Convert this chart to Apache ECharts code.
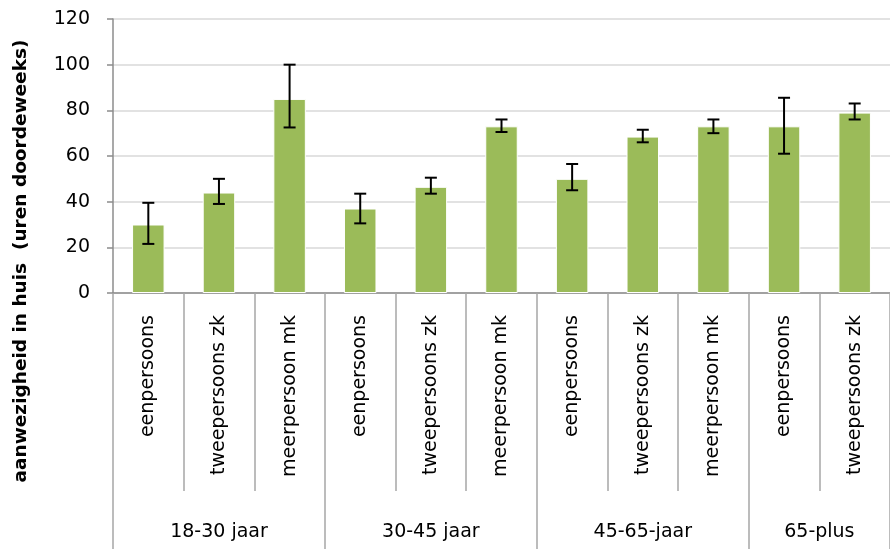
<!DOCTYPE html>
<html>
<head>
<meta charset="utf-8">
<script src="https://cdn.jsdelivr.net/npm/echarts@6/dist/echarts.min.js"></script>
<style>
  html, body { margin: 0; padding: 0; background: #fff; }
  #chart { width: 890px; height: 549px; }
</style>
</head>
<body>
<div id="chart"></div>
<script>
// Household types, per age group
const categories = [
  'eenpersoons', 'tweepersoons zk', 'meerpersoon mk',
  'eenpersoons', 'tweepersoons zk', 'meerpersoon mk',
  'eenpersoons', 'tweepersoons zk', 'meerpersoon mk',
  'eenpersoons', 'tweepersoons zk'
];
const groupNames = ['18-30 jaar', '30-45 jaar', '45-65-jaar', '65-plus'];
const groupSizes = [3, 3, 3, 2];

// Hours at home on weekdays, with lower/upper bounds of the error bars
const hours     = [30, 44, 85, 37, 46.5, 73, 50, 68.5, 73, 73, 79];
const errLower  = [21.5, 39, 72.5, 30.5, 43.5, 70.5, 45, 66, 70, 61, 76];
const errUpper  = [39.5, 50, 100, 43.5, 50.5, 76, 56.5, 71.5, 76, 85.5, 83];

const yTicks = { min: 0, max: 120, interval: 20 };

// Index of the first category of each group
const groupStarts = [];
groupSizes.reduce((acc, n) => { groupStarts.push(acc); return acc + n; }, 0);
const groupData = groupNames.map((name, g) => [groupStarts[g], groupStarts[g] + groupSizes[g] - 1, 0]);

const FONT = 'DejaVu Sans';
const chart = echarts.init(document.getElementById('chart'));

chart.setOption({
  animation: false,
  backgroundColor: '#ffffff',
  textStyle: { fontFamily: FONT },
  grid: { left: 113, right: -12, top: 19, bottom: 256, containLabel: false },
  graphic: [{
    type: 'text',
    x: 21, y: 261,
    rotation: Math.PI / 2,
    style: {
      text: 'aanwezigheid in huis  (uren doordeweeks)',
      fontFamily: FONT,
      fontWeight: 'bold',
      fontSize: 18.5,
      fill: '#000',
      align: 'center',
      verticalAlign: 'middle'
    }
  }],
  xAxis: [{
    type: 'category',
    data: categories,
    axisLine: { show: true, lineStyle: { color: '#8c8c8c', width: 1.5 } },
    axisTick: { show: true, length: 198, interval: 0, lineStyle: { color: '#a6a6a6', width: 1.5 } },
    axisLabel: {
      show: true, rotate: 90, margin: 22, fontSize: 19, color: '#000', fontFamily: FONT, interval: 0
    },
    splitLine: { show: false }
  }, {
    type: 'category',
    data: categories,
    position: 'bottom',
    axisLine: { show: false },
    axisTick: {
      show: true,
      length: 260,
      interval: (index) => groupStarts.includes(index),
      lineStyle: { color: '#a6a6a6', width: 1.5 }
    },
    axisLabel: { show: false },
    splitLine: { show: false }
  }],
  yAxis: {
    type: 'value',
    min: yTicks.min, max: yTicks.max, interval: yTicks.interval,
    axisLine: { show: true, lineStyle: { color: '#8c8c8c', width: 1.5 } },
    axisTick: { show: true, length: 6, lineStyle: { color: '#8c8c8c', width: 1.5 } },
    axisLabel: { fontSize: 19, color: '#000', margin: 23, fontFamily: FONT },
    splitLine: { lineStyle: { color: '#d9d9d9', width: 1.5 } }
  },
  series: [{
    type: 'bar',
    data: hours,
    barWidth: '46%',
    itemStyle: { color: '#9bbb59', borderColor: '#ffffff', borderWidth: 1 },
    z: 2
  }, {
    type: 'custom',
    name: 'error',
    data: hours.map((v, i) => [i, errLower[i], errUpper[i]]),
    encode: { x: 0, y: [1, 2] },
    z: 3,
    renderItem: function (params, api) {
      const i = api.value(0);
      const lo = api.coord([i, api.value(1)]);
      const hi = api.coord([i, api.value(2)]);
      const cap = 6;
      const style = { stroke: '#000', lineWidth: 2 };
      return {
        type: 'group',
        children: [
          { type: 'line', shape: { x1: lo[0], y1: lo[1], x2: hi[0], y2: hi[1] }, style },
          { type: 'line', shape: { x1: hi[0] - cap, y1: hi[1], x2: hi[0] + cap, y2: hi[1] }, style },
          { type: 'line', shape: { x1: lo[0] - cap, y1: lo[1], x2: lo[0] + cap, y2: lo[1] }, style }
        ]
      };
    }
  }, {
    type: 'custom',
    name: 'groups',
    data: groupData,
    encode: { x: 0, y: 2 },
    clip: false,
    silent: true,
    renderItem: function (params, api) {
      const band = api.size([1, 0])[0];
      const a = api.coord([api.value(0), 0]);
      const b = api.coord([api.value(1), 0]);
      const cx = (a[0] + b[0]) / 2;
      const axisY = params.coordSys.y + params.coordSys.height;
      return {
        type: 'text',
        x: cx, y: axisY + 239,
        style: {
          text: groupNames[params.dataIndex],
          fontFamily: FONT, fontSize: 19, fill: '#000',
          align: 'center', verticalAlign: 'middle'
        }
      };
    }
  }]
});
</script>
</body>
</html>
